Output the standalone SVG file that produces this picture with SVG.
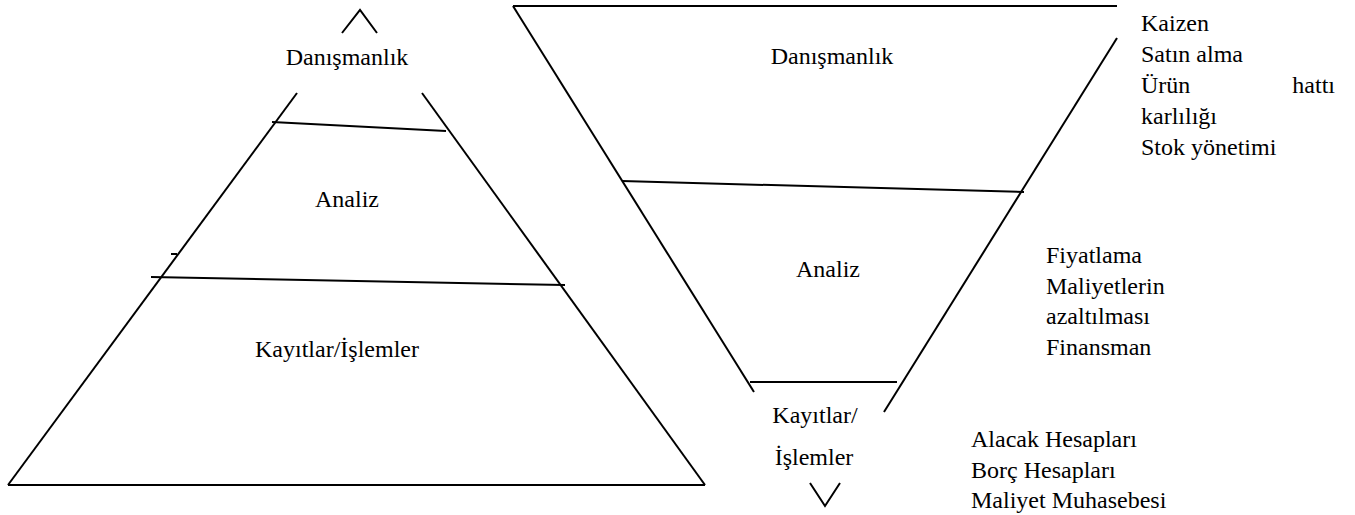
<svg xmlns="http://www.w3.org/2000/svg" width="1355" height="515" viewBox="0 0 1355 515">
  <style>
    .edge { stroke: #000; stroke-width: 2; fill: none; stroke-linecap: butt; }
    text { font-family: 'Liberation Serif', 'Times New Roman', serif; font-size: 24px; fill: #000; }
    .mid { text-anchor: middle; }
  </style>
  <rect width="1355" height="515" fill="#fff"/>

  <!-- Pyramid (left): outline and band dividers -->
  <g id="pyramid">
    <polyline class="edge" points="342,33 360,10 377,33"/>
    <line class="edge" x1="297" y1="93" x2="8" y2="485"/>
    <line class="edge" x1="422" y1="93" x2="705" y2="485"/>
    <line class="edge" x1="8" y1="485" x2="705" y2="485"/>
    <line class="edge" x1="272" y1="122" x2="446" y2="131"/>
    <line class="edge" x1="151" y1="277" x2="565" y2="285"/>
    <line class="edge" x1="171" y1="254" x2="177" y2="254"/>
  </g>
  <g id="pyr-consulting"><text class="mid" x="347" y="65">Danışmanlık</text></g>
  <g id="pyr-analysis"><text class="mid" x="347" y="207">Analiz</text></g>
  <g id="pyr-records"><text class="mid" x="337" y="357">Kayıtlar/İşlemler</text></g>

  <!-- Funnel (right): outline and band dividers -->
  <g id="funnel">
    <line class="edge" x1="513" y1="6" x2="1117" y2="6"/>
    <line class="edge" x1="513" y1="6" x2="754" y2="392"/>
    <line class="edge" x1="1117" y1="38" x2="884" y2="412"/>
    <line class="edge" x1="622" y1="181" x2="1024" y2="192"/>
    <line class="edge" x1="750" y1="382" x2="897" y2="382"/>
    <polyline class="edge" points="810,483 825,506 840,483"/>
  </g>
  <g id="fun-consulting"><text class="mid" x="832" y="64">Danışmanlık</text></g>
  <g id="fun-analysis"><text class="mid" x="828" y="277">Analiz</text></g>
  <g id="fun-records">
    <text class="mid" x="815" y="423">Kayıtlar/</text>
    <text class="mid" x="814" y="465">İşlemler</text>
  </g>

  <!-- Example lists beside each band -->
  <g id="list-consulting">
    <text x="1141" y="31">Kaizen</text>
    <text x="1141" y="62">Satın alma</text>
    <text x="1141" y="93">Ürün</text>
    <text x="1335" y="93" text-anchor="end">hattı</text>
    <text x="1141" y="124">karlılığı</text>
    <text x="1141" y="155">Stok yönetimi</text>
  </g>
  <g id="list-analysis">
    <text x="1046" y="263">Fiyatlama</text>
    <text x="1046" y="294">Maliyetlerin</text>
    <text x="1046" y="324">azaltılması</text>
    <text x="1046" y="355">Finansman</text>
  </g>
  <g id="list-records">
    <text x="971" y="447">Alacak Hesapları</text>
    <text x="971" y="478">Borç Hesapları</text>
    <text x="971" y="508">Maliyet Muhasebesi</text>
  </g>
</svg>
